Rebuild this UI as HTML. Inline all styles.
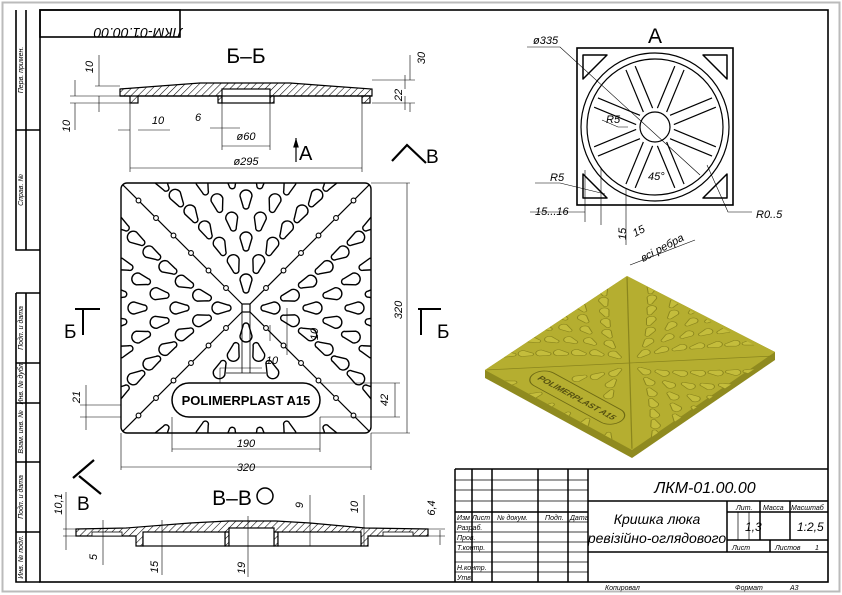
<!DOCTYPE html>
<html><head><meta charset="utf-8"><style>
html,body{margin:0;padding:0;background:#fff}
svg{display:block}
text{font-family:"Liberation Sans","DejaVu Sans",sans-serif;font-style:italic;fill:#000}
.t{font-size:11px}
.s{font-size:7px}
.big{font-size:21px;font-style:normal}
</style></head><body>
<svg id="sv" width="842" height="595" viewBox="0 0 842 595" xmlns="http://www.w3.org/2000/svg">
<defs>
<pattern id="h" width="5" height="5" patternUnits="userSpaceOnUse" patternTransform="rotate(45)"><rect width="5" height="5" fill="#fff"/><line x1="0" y1="0" x2="0" y2="5" stroke="#000" stroke-width="1.1"/></pattern>
<clipPath id="sq"><rect x="0" y="0" width="250" height="250" rx="6"/></clipPath>
<marker id="ar" viewBox="0 0 10 6" refX="10" refY="3" markerWidth="8" markerHeight="5" orient="auto-start-reverse"><path d="M0 0L10 3L0 6Z" fill="#000"/></marker>
</defs>
<rect x="2.5" y="2.5" width="837" height="589" fill="none" stroke="#bbb" stroke-width="2"/>
<g fill="none" stroke="#000" stroke-width="1.6">
<rect x="40" y="10" width="788" height="572"/>
<rect x="40" y="10" width="140" height="27"/>
<path d="M16 10V250H40M26 10V250M16 130H40"/>
<path d="M16 293H40M16 293V582H40M26 293V582M16 363H40M16 403H40M16 462H40M16 532H40"/>
</g>
<text transform="translate(138,28) rotate(180)" class="t" style="font-size:14px" text-anchor="middle">ЛКМ-01.00.00</text>
<g class="s">
<text transform="translate(23,70) rotate(-90)" text-anchor="middle" class="s">Перв. примен.</text>
<text transform="translate(23,190) rotate(-90)" text-anchor="middle" class="s">Справ. №</text>
<text transform="translate(23,328) rotate(-90)" text-anchor="middle" class="s">Подп. и дата</text>
<text transform="translate(23,383) rotate(-90)" text-anchor="middle" class="s">Инв. № дубл.</text>
<text transform="translate(23,432) rotate(-90)" text-anchor="middle" class="s">Взам. инв. №</text>
<text transform="translate(23,497) rotate(-90)" text-anchor="middle" class="s">Подп. и дата</text>
<text transform="translate(23,557) rotate(-90)" text-anchor="middle" class="s">Инв. № подл.</text>
</g>

<text x="246" y="63" class="big" text-anchor="middle">Б–Б</text>
<path d="M120 89L160 86L200 83L290 83L330 86L372 89L372 96L138 96L138 103L130 103L130 96L120 96Z" fill="url(#h)" stroke="#000" stroke-width="1.2"/>
<path d="M218 96H222V103H218ZM270 96H274V103H270ZM362 96H370V103H362Z" fill="url(#h)" stroke="#000" stroke-width="1.2"/>
<rect x="222" y="89" width="48" height="14" fill="#fff" stroke="#000" stroke-width="1.2"/>
<path d="M120 96H372" stroke="#000" stroke-width="1.2"/>
<g stroke="#000" stroke-width="0.6" fill="none">
<path d="M95 86H120M70 96H120M70 103H130M372 80H415M372 103H415M130 103V172M362 103V172M222 103V150M270 103V150"/>
<path d="M99 55V86M99 96V112M75 80V96M75 103V130M410 55V80M410 103V112M405 75V89M405 96V110M118 130H130M138 130H170M210 128H222M222 128H240M222 146H270M130 168H362" />
</g>
<text transform="translate(93,67) rotate(-90)" class="t" text-anchor="middle">10</text>
<text transform="translate(70,126) rotate(-90)" class="t" text-anchor="middle">10</text>
<text x="158" y="124" class="t" text-anchor="middle">10</text>
<text x="198" y="121" class="t" text-anchor="middle">6</text>
<text x="246" y="140" class="t" text-anchor="middle">ø60</text>
<text x="246" y="165" class="t" text-anchor="middle">ø295</text>
<text transform="translate(425,58) rotate(-90)" class="t" text-anchor="middle">30</text>
<text transform="translate(402,95) rotate(-90)" class="t" text-anchor="middle">22</text>
<text x="299" y="160" class="big" style="font-size:20px">A</text>
<path d="M296 162V138" stroke="#000" stroke-width="1.2" marker-end="url(#ar)"/>
<path d="M392 161L407 145L426 163" stroke="#000" stroke-width="2.2" fill="none"/>
<text x="426" y="163" class="big" style="font-size:19px">В</text>

<g transform="translate(121,183)">
<g clip-path="url(#sq)" id="plan"></g>
<rect x="0" y="0" width="250" height="250" rx="6" fill="none" stroke="#000" stroke-width="1.4"/>
</g>
<g stroke="#000" stroke-width="0.6" fill="none">
<path d="M371 183H410M371 433H410M407 183V433M320 383H400M320 417H400M395 383V417M80 405H121M80 417H121M86 385V430M121 433V470M371 433V470M172 417V452M320 417V452M172 449H320M121 467H371M220 383V368H262M287 308V355M270 341V325"/>
</g>
<text transform="translate(402,310) rotate(-90)" class="t" text-anchor="middle">320</text>
<text transform="translate(388,400) rotate(-90)" class="t" text-anchor="middle">42</text>
<text transform="translate(80,397) rotate(-90)" class="t" text-anchor="middle">21</text>
<text transform="translate(318,334) rotate(-90)" class="t" text-anchor="middle">10</text>
<text x="272" y="364" class="t" text-anchor="middle">10</text>
<text x="246" y="447" class="t" text-anchor="middle">190</text>
<text x="246" y="471" class="t" text-anchor="middle">320</text>
<path d="M75 309H100M83 309V335" stroke="#000" stroke-width="2"/>
<text x="64" y="338" class="big" style="font-size:19px">Б</text>
<path d="M418 309H441M421 309V335" stroke="#000" stroke-width="2"/>
<text x="437" y="338" class="big" style="font-size:19px">Б</text>
<path d="M73 478L94 460M79 476L101 494" stroke="#000" stroke-width="2.2"/>
<text x="77" y="510" class="big" style="font-size:19px">В</text>

<text x="232" y="505" class="big" text-anchor="middle">В–В</text>
<circle cx="265" cy="496" r="8" fill="none" stroke="#000" stroke-width="1.5"/>
<path d="M76 529L126 528L190 523L228 521L276 521L310 523L365 528L428 529L428 536L368 536L368 546L361 546L361 536L143 536L143 546L136 546L136 536L76 536Z" fill="url(#h)" stroke="#000" stroke-width="1.2"/>
<path d="M225 532H229V546H225ZM274 532H278V546H274Z" fill="url(#h)" stroke="#000" stroke-width="1.2"/>
<rect x="229" y="528" width="45" height="18" fill="#fff" stroke="#000" stroke-width="1.2"/>
<rect x="143" y="532" width="82" height="14" fill="#fff" stroke="#000" stroke-width="1.2"/>
<rect x="278" y="532" width="83" height="14" fill="#fff" stroke="#000" stroke-width="1.2"/>
<rect x="92" y="532" width="30" height="4" fill="#fff" stroke="#000" stroke-width="0.8"/>
<rect x="383" y="532" width="30" height="4" fill="#fff" stroke="#000" stroke-width="0.8"/>
<g stroke="#000" stroke-width="0.6" fill="none">
<path d="M63 529H76M63 536H76M66 492V550M103 520V565M162 520V575M248 516V577M310 495V546M364 495V546M440 530V545M428 529H445M428 536H445"/>
</g>
<text transform="translate(62,504) rotate(-90)" class="t" text-anchor="middle">10,1</text>
<text transform="translate(97,557) rotate(-90)" class="t" text-anchor="middle">5</text>
<text transform="translate(158,567) rotate(-90)" class="t" text-anchor="middle">15</text>
<text transform="translate(245,568) rotate(-90)" class="t" text-anchor="middle">19</text>
<text transform="translate(303,505) rotate(-90)" class="t" text-anchor="middle">9</text>
<text transform="translate(358,507) rotate(-90)" class="t" text-anchor="middle">10</text>
<text transform="translate(435,508) rotate(-90)" class="t" text-anchor="middle">6,4</text>

<text x="655" y="43" class="big" text-anchor="middle">A</text>
<rect x="577" y="48" width="156" height="157" fill="none" stroke="#000" stroke-width="1.6"/>
<g id="va" fill="none" stroke="#000" stroke-width="1.2"></g>
<g stroke="#000" stroke-width="0.6" fill="none">
<path d="M527 47H560L700 175M535 183H560L605 194M530 212H585M585 170V222M601 168V225M626 188V245M707 165L728 212L752 212M630 265L695 240M602 120L618 127H628"/>
</g>
<text x="533" y="44" class="t">ø335</text>
<text x="606" y="123" class="t">R5</text>
<text x="550" y="181" class="t">R5</text>
<text x="535" y="215" class="t">15...16</text>
<text transform="translate(626,240) rotate(-90)" class="t">15</text>
<text x="648" y="180" class="t">45°</text>
<text x="756" y="218" class="t">R0..5</text>
<text transform="translate(635,237) rotate(-28)" class="t">15</text>
<text transform="translate(643,262) rotate(-28)" class="t">всі ребра</text>

<path d="M485 370L627 276L775 352L775 360L632 458L485 378Z" fill="#8f8a1f"/>
<path d="M485 370L627 276L775 352L632 450Z" fill="#b5ae30"/>
<g transform="matrix(0.588,0.32,-0.568,0.376,627,276)"><g id="iso" clip-path="url(#sq)"></g></g>

<g fill="none" stroke="#000" stroke-width="1.5">
<path d="M455 469H828M455 469V582M588 469V582M455 512H588M588 501H828M727 501V552M588 552H828M727 512H828M727 540H828M472 469V582M492 469V582M538 469V582M568 469V582M760 501V540M790 501V540M770 540V552"/>
</g>
<g stroke="#000" stroke-width="0.7" fill="none">
<path d="M455 480H588M455 490H588M455 501H588M455 522H588M455 532H588M455 542H588M455 552H588M455 562H588M455 572H588M738 512V540M749 512V540"/>
</g>
<text x="705" y="493" class="t" style="font-size:16px" text-anchor="middle">ЛКМ-01.00.00</text>
<text x="657" y="524" class="t" style="font-size:14px" text-anchor="middle">Кришка люка</text>
<text x="657" y="543" class="t" style="font-size:14px" text-anchor="middle">ревізійно-оглядового</text>
<g class="s">
<text x="457" y="520" class="s">Изм</text><text x="472" y="520" class="s">Лист</text><text x="497" y="520" class="s">№ докум.</text><text x="545" y="520" class="s">Подп.</text><text x="570" y="520" class="s">Дата</text>
<text x="457" y="530" class="s">Разраб.</text><text x="457" y="540" class="s">Пров.</text><text x="457" y="550" class="s">Т.контр.</text>
<text x="457" y="570" class="s">Н.контр.</text><text x="457" y="580" class="s">Утв.</text>
<text x="736" y="510" class="s">Лит.</text><text x="763" y="510" class="s">Масса</text><text x="791" y="510" class="s">Масштаб</text>
<text x="732" y="550" class="s">Лист</text><text x="775" y="550" class="s">Листов</text><text x="815" y="550" class="s">1</text>
<text x="605" y="590" class="s">Копировал</text><text x="735" y="590" class="s">Формат</text><text x="790" y="590" class="s">А3</text>
</g>
<text x="745" y="531" class="t" style="font-size:12px">1,3</text>
<text x="797" y="531" class="t" style="font-size:12px">1:2,5</text>
</svg>
<script>
(function(){
var NS="http://www.w3.org/2000/svg";
function el(p,n,a){var e=document.createElementNS(NS,n);for(var k in a)e.setAttribute(k,a[k]);p.appendChild(e);return e;}
var plan=document.getElementById('plan'),iso=document.getElementById('iso');
var drop="M-7,-3L3,-6A6,6 0 0 1 3,6L-7,3A3,3 0 0 1 -7,-3Z";
var cx=125,cy=125;
[[0,0],[250,0],[0,250],[250,250]].forEach(function(c){
 el(plan,'line',{x1:cx,y1:cy,x2:c[0],y2:c[1],stroke:'#000','stroke-width':1.2});
 el(iso,'line',{x1:cx,y1:cy,x2:c[0],y2:c[1],stroke:'#8a851d','stroke-width':1.5});
 for(var t=0.16;t<1.02;t+=0.14){var x=cx+(c[0]-cx)*t,y=cy+(c[1]-cy)*t;
  el(plan,'circle',{cx:x,cy:y,r:2.4,fill:'#fff',stroke:'#000','stroke-width':1.1});}
});
for(var k=1;k<=8;k++){
 var r=4+21*k, n=Math.round(2*Math.PI*r/28/4)*4; if(n<8)n=8;
 for(var i=0;i<n;i++){
  var a=(k%2?i:(i+0.5))/n*Math.PI*2;
  var dd=Math.abs(((a*180/Math.PI)%90)-45); if(dd<7)continue;
  var x=cx+r*Math.cos(a),y=cy+r*Math.sin(a);
  if(x<-7||x>257||y<-7||y>257)continue;
  if(y>190&&y<245&&x>44&&x<206)continue;
  var deg=a*180/Math.PI;
  var tr='translate('+x.toFixed(1)+','+y.toFixed(1)+') rotate('+deg.toFixed(1)+')';
  el(plan,'path',{d:drop,transform:tr,fill:'#fff',stroke:'#000','stroke-width':1.4});
  el(iso,'path',{d:drop,transform:tr,fill:'#c4bd3c',stroke:'#8a851d','stroke-width':1.2});
 }
}
el(plan,'rect',{x:121,y:121,width:8,height:8,fill:'#fff',stroke:'#000','stroke-width':1.2});
el(plan,'path',{d:'M121 129V190M129 129V190M105 190H145',fill:'none',stroke:'#000','stroke-width':0.8});
el(plan,'rect',{x:51,y:200,width:148,height:34,rx:17,fill:'#fff',stroke:'#000','stroke-width':1.5});
var tx=el(plan,'text',{x:125,y:222,'text-anchor':'middle',style:'font-size:13px;font-weight:bold;font-style:normal'});tx.textContent='POLIMERPLAST A15';
el(iso,'rect',{x:51,y:200,width:148,height:34,rx:17,fill:'none',stroke:'#6e6a14','stroke-width':1.5});
var t2=el(iso,'text',{x:125,y:222,'text-anchor':'middle',style:'font-size:13px;font-weight:bold;font-style:normal;fill:#555010'});t2.textContent='POLIMERPLAST A15';
var va=document.getElementById('va'),X=655,Y=127;
el(va,'circle',{cx:X,cy:Y,r:74});el(va,'circle',{cx:X,cy:Y,r:68});el(va,'circle',{cx:X,cy:Y,r:15});
for(var j=0;j<8;j++){var b=(22.5+45*j)*Math.PI/180,c=Math.cos(b),s=Math.sin(b),px=-s,py=c;
 [-5,5].forEach(function(o){
  var r1=Math.sqrt(Math.max(0,19*19-o*o)),r2=Math.sqrt(68*68-o*o)-4;
  el(va,'line',{x1:X+r1*c+o*px,y1:Y+r1*s+o*py,x2:X+r2*c+o*px,y2:Y+r2*s+o*py});});}
el(va,'path',{d:'M583 55H607L583 79ZM727 55H703L727 79ZM583 198H607L583 174ZM727 198H703L727 174Z','stroke-linejoin':'round','stroke-width':1.5});
})();
</script>
</body></html>
